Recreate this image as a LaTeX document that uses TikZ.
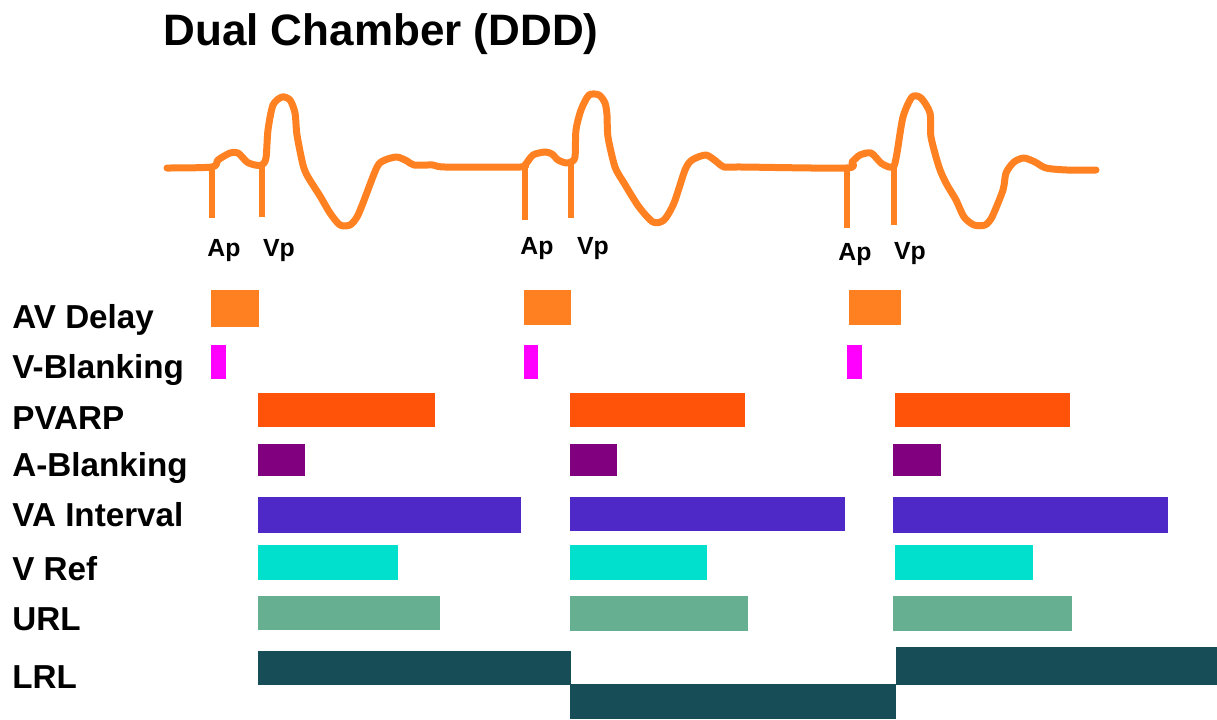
\documentclass[tikz,border=0pt]{standalone}
\usepackage{fontspec}
\setmainfont{Liberation Sans}
\definecolor{wave}{HTML}{FF8122}
\definecolor{avd}{HTML}{FF8020}
\definecolor{pvarp}{HTML}{FF530A}
\definecolor{vblank}{HTML}{FF00FF}
\definecolor{ablank}{HTML}{800080}
\definecolor{vaint}{HTML}{4F28C8}
\definecolor{vref}{HTML}{00E0CC}
\definecolor{urlc}{HTML}{66AF90}
\definecolor{lrl}{HTML}{164D57}
\tikzset{
  rowlabel/.style={anchor=base west, inner sep=0pt, font=\fontsize{16.6}{18}\selectfont\bfseries},
  pulselabel/.style={anchor=base, inner sep=0pt, font=\fontsize{12.4}{14}\selectfont\bfseries},
  trace/.style={draw=wave, line width=3.5pt, line join=round, line cap=round},
  spike/.style={draw=wave, line width=3.3pt, line cap=butt},
  bar/.style={draw=none}
}
\begin{document}
\begin{tikzpicture}[x=0.5pt,y=-0.5pt]
\useasboundingbox (0,0) rectangle (1217,719);
% title
\node[anchor=base, inner sep=0pt, font=\fontsize{22}{26}\selectfont\bfseries] (title) at (381,45) {Dual Chamber (DDD)};
% waveform
\draw[trace] plot[smooth, tension=0.45] coordinates {
(167,168) (212,167) (218,160) (230,153) (238,153) (247,162) (255,165) (262,165)
(266,158) (268,130) (273,105) (282,97) (290,100) (295,113) (297,135) (303,165)
(308,177) (320,196) (330,213) (340,225) (350,225) (357,217) (363,203) (377,167)
(385,160) (397,157) (407,161) (414,165) (433,165) (445,167) (520,167) (525,165)
(533,155) (545,152) (552,154) (558,160) (566,163) (571,162)
(575,157) (576,130) (581,110) (589,95) (599,95) (605,103) (607,115) (608,137)
(615,167) (624,183) (639,207) (653,222) (664,220) (674,203) (685,170) (692,160)
(706,155) (717,162) (724,167) (742,167) (846,168)
(852,162) (860,155) (871,153) (881,163) (889,167) (894,166)
(897,153) (903,117) (912,97) (921,98) (930,113) (931,137) (939,167) (946,183)
(956,200) (964,217) (974,225) (985,225) (992,217) (1003,190) (1006,173) (1014,162)
(1024,158) (1035,162) (1046,168) (1067,170) (1096,170)};
% pacing spikes
\coordinate (ap1t) at (212,166); \coordinate (ap1b) at (212,218);
\coordinate (vp1t) at (262,164); \coordinate (vp1b) at (262,217);
\coordinate (ap2t) at (525,164); \coordinate (ap2b) at (525,220);
\coordinate (vp2t) at (571,161); \coordinate (vp2b) at (571,218);
\coordinate (ap3t) at (847,167); \coordinate (ap3b) at (847,228);
\coordinate (vp3t) at (894,165); \coordinate (vp3b) at (894,225);
\draw[spike] (ap1t) -- (ap1b);
\draw[spike] (vp1t) -- (vp1b);
\draw[spike] (ap2t) -- (ap2b);
\draw[spike] (vp2t) -- (vp2b);
\draw[spike] (ap3t) -- (ap3b);
\draw[spike] (vp3t) -- (vp3b);
% pulse labels
\node[pulselabel] (ap1) at (224,256) {Ap};
\node[pulselabel] (vp1) at (279,256) {Vp};
\node[pulselabel] (ap2) at (537,254) {Ap};
\node[pulselabel] (vp2) at (593,254) {Vp};
\node[pulselabel] (ap3) at (855,260) {Ap};
\node[pulselabel] (vp3) at (910,259) {Vp};
% row labels
\node[rowlabel] (lavd) at (12,328) {AV Delay};
\node[rowlabel] (lvbl) at (12,378) {V-Blanking};
\node[rowlabel] (lpva) at (12,429) {PVARP};
\node[rowlabel] (labl) at (12,476) {A-Blanking};
\node[rowlabel] (lvai) at (12,526) {VA Interval};
\node[rowlabel] (lvre) at (12,580) {V Ref};
\node[rowlabel] (lurl) at (12,630) {URL};
\node[rowlabel] (llrl) at (12,688) {LRL};
% AV delay
\fill[avd] (211,290) rectangle (259,327);
\fill[avd] (524,290) rectangle (571,325);
\fill[avd] (849,290) rectangle (901,325);
% V-blanking
\fill[vblank] (211,345) rectangle (226,379);
\fill[vblank] (524,345) rectangle (538,379);
\fill[vblank] (847,345) rectangle (862,379);
% PVARP
\fill[pvarp] (258,393) rectangle (435,427);
\fill[pvarp] (570,393) rectangle (745,427);
\fill[pvarp] (895,393) rectangle (1070,427);
% A-blanking
\fill[ablank] (258,444) rectangle (305,476);
\fill[ablank] (570,444) rectangle (617,476);
\fill[ablank] (893,444) rectangle (941,476);
% VA interval
\fill[vaint] (258,497) rectangle (521,533);
\fill[vaint] (570,497) rectangle (845,531);
\fill[vaint] (893,497) rectangle (1168,533);
% V Ref
\fill[vref] (258,545) rectangle (398,580);
\fill[vref] (570,545) rectangle (707,580);
\fill[vref] (895,545) rectangle (1033,580);
% URL
\fill[urlc] (258,596) rectangle (440,630);
\fill[urlc] (570,596) rectangle (748,631);
\fill[urlc] (893,596) rectangle (1072,631);
% LRL
\fill[lrl] (258,651) rectangle (571,685);
\fill[lrl] (570,684) rectangle (896,719);
\fill[lrl] (896,647) rectangle (1217,685);
\end{tikzpicture}
\end{document}
